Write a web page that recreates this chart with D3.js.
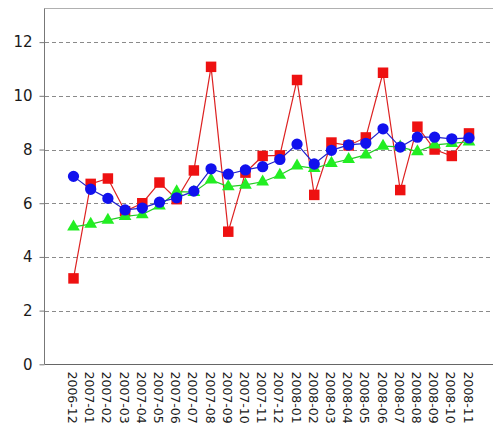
<!DOCTYPE html>
<html>
<head>
<meta charset="utf-8">
<script src="https://cdn.jsdelivr.net/npm/d3@7"></script>
<style>
html,body{margin:0;padding:0;background:#fff;}
svg{display:block;}
</style>
</head>
<body>
<svg id="chart" width="493" height="433"></svg>
<script>
const categories = ["2006-12","2007-01","2007-02","2007-03","2007-04","2007-05","2007-06","2007-07","2007-08","2007-09","2007-10","2007-11","2007-12","2008-01","2008-02","2008-03","2008-04","2008-05","2008-06","2008-07","2008-08","2008-09","2008-10","2008-11"];
const redValues = [3.2,6.72,6.92,5.7,6.0,6.77,6.15,7.22,11.08,4.94,7.14,7.76,7.78,10.59,6.31,8.26,8.15,8.45,10.86,6.49,8.85,8.0,7.76,8.6];
const blueValues = [7.0,6.52,6.18,5.75,5.82,6.04,6.2,6.45,7.28,7.08,7.24,7.36,7.63,8.2,7.46,7.97,8.17,8.23,8.77,8.09,8.46,8.46,8.4,8.43];
const greenValues = [5.12,5.22,5.37,5.51,5.58,5.9,6.43,6.41,6.87,6.62,6.68,6.8,7.05,7.39,7.3,7.49,7.63,7.8,8.13,8.1,7.92,8.17,8.23,8.29];
const yTicks = [0,2,4,6,8,10,12];

(function () {
const svg = d3.select("#chart");
const pLeft = 45, pTop = 8.3, pBottom = 364.3, pRight = 493;

const x = d3.scalePoint().domain(categories).range([73.5, 469]);
const y = d3.scaleLinear().domain([0, 13.26]).range([pBottom, pTop]);

// gridlines
svg.append("g").selectAll("line").data(yTicks.filter(d => d > 0)).join("line")
  .attr("x1", pLeft).attr("x2", pRight)
  .attr("y1", d => Math.round(y(d)) + 0.5).attr("y2", d => Math.round(y(d)) + 0.5)
  .attr("stroke", "#8a8a8a").attr("stroke-width", 1).attr("stroke-dasharray", "4,3");

// top border
svg.append("line").attr("x1", pLeft).attr("x2", pRight).attr("y1", Math.round(pTop) + 0.5).attr("y2", Math.round(pTop) + 0.5)
  .attr("stroke", "#b0b0b0");

// y axis
const yAxis = svg.append("g").attr("transform", `translate(${pLeft - 0.5},0)`)
  .call(d3.axisLeft(y).tickValues(yTicks).tickSize(5).tickPadding(7).tickFormat(d3.format("d")));
yAxis.select(".domain").attr("stroke", "#777").attr("d", `M0,${pTop}V${pBottom}`);
yAxis.selectAll(".tick line").attr("stroke", "#777");
yAxis.selectAll(".tick text").attr("font-family", "DejaVu Sans, sans-serif").attr("font-size", 15).attr("fill", "#1a1a1a");

// x axis
const xAxis = svg.append("g").attr("transform", `translate(0,${Math.round(pBottom) + 0.5})`)
  .call(d3.axisBottom(x).tickSize(0).tickPadding(0));
xAxis.select(".domain").attr("stroke", "#666").attr("d", `M${pLeft - 0.5},0H${pRight}`);
xAxis.selectAll(".tick text")
  .attr("font-family", "DejaVu Sans, sans-serif").attr("font-size", 12.5).attr("fill", "#1a1a1a")
  .attr("text-anchor", "start").attr("dy", null)
  .attr("transform", "translate(-6,7) rotate(90)");

function series(values, color, lineColor, shape, size) {
  const g = svg.append("g");
  const line = d3.line().x((d, i) => x(categories[i])).y(d => y(d));
  g.append("path").datum(values).attr("d", line).attr("fill", "none").attr("stroke", lineColor).attr("stroke-width", 1.2);
  g.selectAll("path.m").data(values).join("path").attr("class", "m")
    .attr("transform", (d, i) => `translate(${x(categories[i])},${y(d)})`)
    .attr("d", d3.symbol().type(shape).size(size))
    .attr("fill", color);
}

series(redValues, "#ee1111", "#dd2222", d3.symbolSquare, 110);
series(greenValues, "#22ee22", "#22cc22", d3.symbolTriangle, 70);
series(blueValues, "#1111ee", "#2222cc", d3.symbolCircle, 100);
})();
</script>
</body>
</html>
